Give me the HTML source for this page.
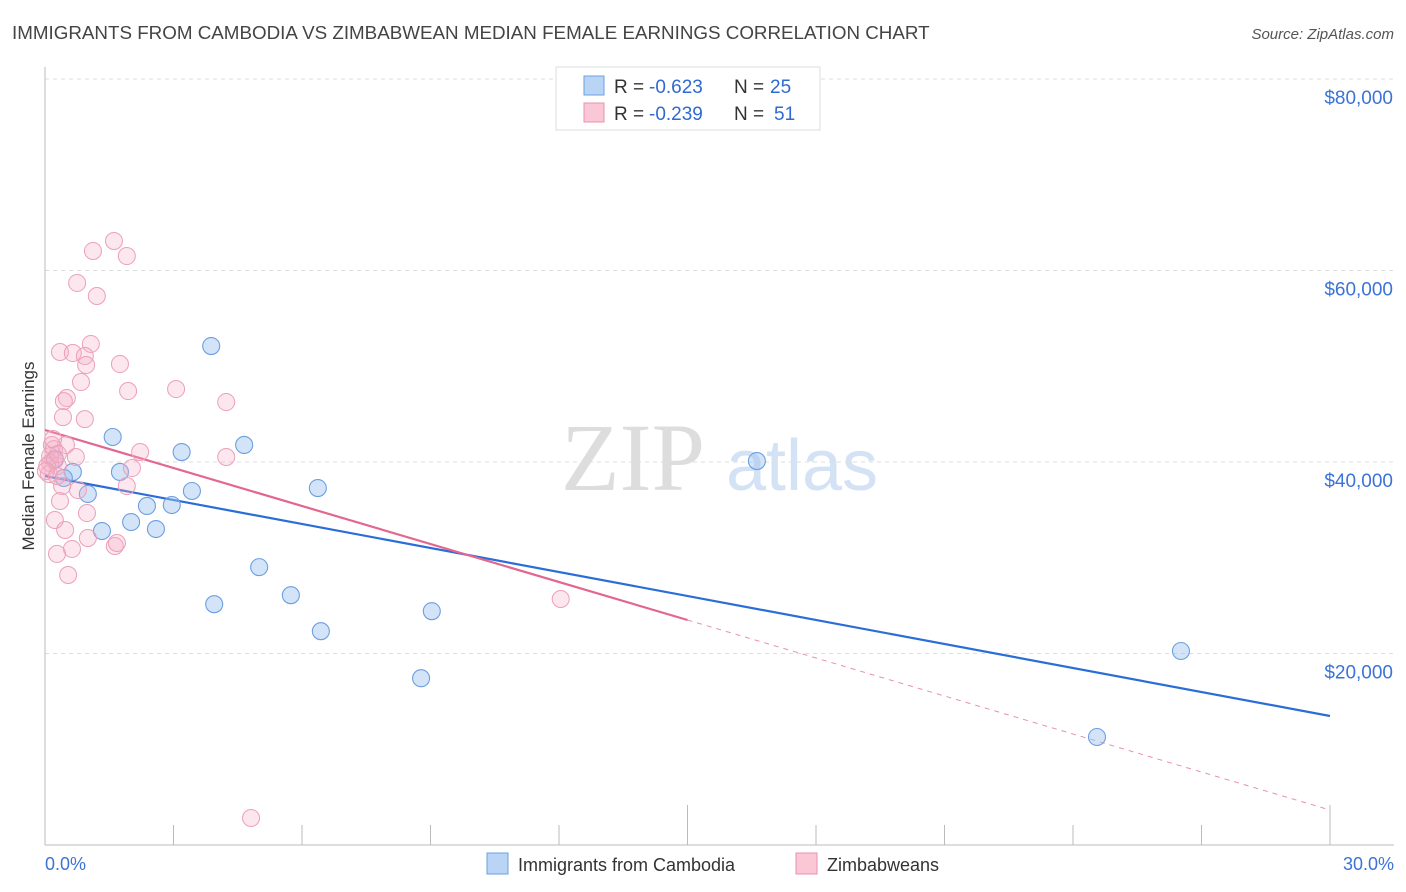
<!DOCTYPE html>
<html><head><meta charset="utf-8"><style>
body{margin:0;background:#fff;font-family:"Liberation Sans",sans-serif}
svg{display:block}
</style></head><body>
<svg id="c" width="1406" height="892" xmlns="http://www.w3.org/2000/svg">
<text x="12" y="39" font-size="18.8" fill="#444">IMMIGRANTS FROM CAMBODIA VS ZIMBABWEAN MEDIAN FEMALE EARNINGS CORRELATION CHART</text>
<text x="1394" y="39" font-size="15" fill="#555" font-style="italic" text-anchor="end">Source: ZipAtlas.com</text>
<text x="34" y="456" font-size="17" fill="#333" text-anchor="middle" transform="rotate(-90 34 456)">Median Female Earnings</text>
<g><text x="633" y="490" font-size="96" fill="#ddd" font-family="Liberation Serif,serif" text-anchor="middle">ZIP</text><text x="802" y="490" font-size="72" fill="#d4e2f5" text-anchor="middle">atlas</text></g>
<g id="grid"></g><g id="axes"></g><g id="lines"></g><g id="pts"></g>
<g>
<rect x="556" y="67" width="264" height="63" fill="#fff" stroke="#ddd"/>
<rect x="584" y="76" width="20" height="19" fill="#b9d4f5" stroke="#6c9fe0"/>
<rect x="584" y="103" width="20" height="19" fill="#f9c7d6" stroke="#e890ac"/>
<text x="614" y="93" font-size="19" fill="#333">R =</text><text x="649" y="93" font-size="19" fill="#2f6ad0">-0.623</text>
<text x="734" y="93" font-size="19" fill="#333">N =</text><text x="770" y="93" font-size="19" fill="#2f6ad0">25</text>
<text x="614" y="120" font-size="19" fill="#333">R =</text><text x="649" y="120" font-size="19" fill="#2f6ad0">-0.239</text>
<text x="734" y="120" font-size="19" fill="#333">N =</text><text x="774" y="120" font-size="19" fill="#2f6ad0">51</text>
</g>
<g>
<rect x="487" y="853" width="21" height="21" fill="#b9d4f5" stroke="#6c9fe0"/>
<text x="518" y="871" font-size="18" fill="#333">Immigrants from Cambodia</text>
<rect x="796" y="853" width="21" height="21" fill="#f9c7d6" stroke="#e890ac"/>
<text x="827" y="871" font-size="18" fill="#333">Zimbabweans</text>
</g>
</svg>
<script>
const yTicks=[20000,40000,60000,80000];
const yTickLabels=["$20,000","$40,000","$60,000","$80,000"];
const xTickLabels=["0.0%","30.0%"];
const cambX=[3.88,1.58,3.19,4.65,1.75,0.65,0.44,1.0,2.38,2.96,3.43,2.01,2.59,1.33,6.37,5.0,3.95,5.74,6.44,9.03,8.78,16.62,26.52,24.56,0.23];
const cambY=[52110,42610,41040,41780,38960,38960,38330,36660,35410,35510,36970,33730,33000,32790,37280,29020,25150,26090,22330,24420,17420,40100,20260,11280,40310];
const zimX=[1.61,1.12,1.91,0.75,1.21,1.07,0.35,0.65,0.93,0.96,1.75,0.84,1.94,3.06,4.23,0.51,0.44,0.42,0.93,2.22,4.23,0.16,0.49,0.72,0.21,0.12,0.3,0.09,2.03,1.91,0.4,0.77,0.35,0.98,0.23,0.47,1.0,1.63,1.68,0.63,0.28,0.54,4.81,12.04,0.12,0.05,0.23,0.02,0.28,0.19,0.3];
const zimY=[63080,62040,61510,58700,57340,52330,51490,51380,51070,50130,50230,48350,47410,47620,46260,46680,46360,44690,44480,41040,40520,41770,41770,40520,41350,39890,39580,38750,39370,37490,37490,37070,35920,34670,33940,32900,32060,31230,31540,30920,30400,28200,2820,25690,40620,39580,40210,39060,38540,42400,40830];
const trendCamb=[38538,13473];
const trendZim=[43342,3655];
const zimSolidEnd=15;
const X=v=>45+v/30*1285, Y=v=>845-v/80000*766;
const NS="http://www.w3.org/2000/svg";
function mk(p,t,a){const e=document.createElementNS(NS,t);for(const k in a)e.setAttribute(k,a[k]);document.getElementById(p).appendChild(e);return e;}
yTicks.forEach((t,i)=>{
 const l=mk('grid','line',{x1:45,x2:1394,y1:Y(t),y2:Y(t),stroke:'#ddd','stroke-dasharray':'4,4'});
 
 
 const tx=mk('grid','text',{x:1393,y:Y(t)+25,'font-size':19,fill:'#3b73d6','text-anchor':'end'});tx.textContent=yTickLabels[i];
 
 
});
mk('axes','line',{x1:45,x2:45,y1:67,y2:845,stroke:'#bbb'});
mk('axes','line',{x1:45,x2:1394,y1:845,y2:845,stroke:'#bbb'});
for(let i=0;i<=10;i++){const x=X(i*3);const e=mk('axes','line',{x1:x,x2:x,y1:(i==5||i==10)?805:825,y2:845,stroke:'#bbb'});}
[0,30].forEach((v,i)=>{const t=mk('axes','text',{x:i?1394:45,y:870,'font-size':18,fill:'#3b73d6','text-anchor':i?'end':'start'});t.textContent=xTickLabels[i];});
cambX.forEach((v,i)=>{const c=mk('pts','circle',{cx:X(v),cy:Y(cambY[i]),r:8.5,fill:'rgba(160,196,240,0.45)',stroke:'#6c9fe0','stroke-width':1.1});});
zimX.forEach((v,i)=>{const c=mk('pts','circle',{cx:X(v),cy:Y(zimY[i]),r:8.5,fill:'rgba(246,176,198,0.3)',stroke:'#eca0b8','stroke-width':1});});
const zy=x=>trendZim[0]+(trendZim[1]-trendZim[0])*x/30;
let l=mk('lines','line',{x1:X(0),y1:Y(trendCamb[0]),x2:X(30),y2:Y(trendCamb[1]),stroke:'#2a6dd6','stroke-width':2.2});


l=mk('lines','line',{x1:X(0),y1:Y(zy(0)),x2:X(zimSolidEnd),y2:Y(zy(zimSolidEnd)),stroke:'#e3668f','stroke-width':2.2});


l=mk('lines','line',{x1:X(zimSolidEnd),y1:Y(zy(zimSolidEnd)),x2:X(30),y2:Y(zy(30)),stroke:'#e890ac','stroke-width':1,'stroke-dasharray':'5,5'});


</script>
</body></html>
